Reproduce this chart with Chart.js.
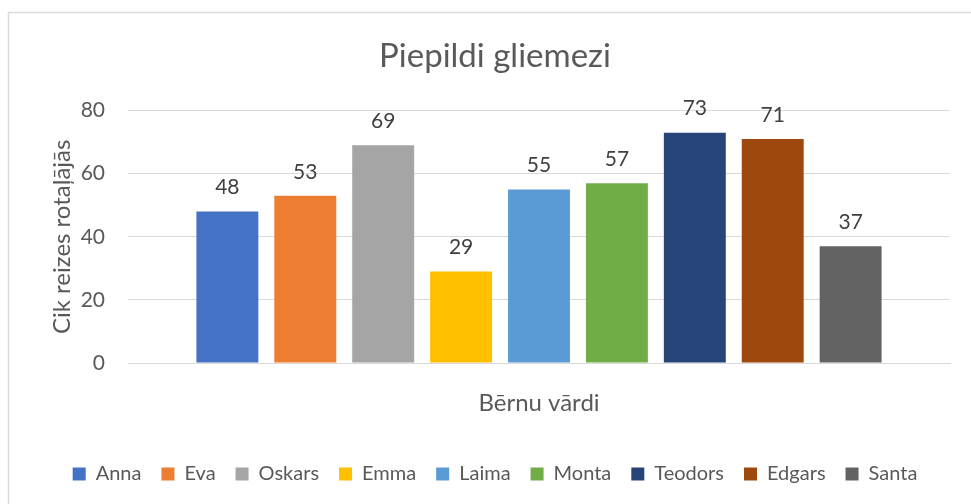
<!DOCTYPE html>
<html>
<head>
<meta charset="utf-8">
<script src="https://cdn.jsdelivr.net/npm/chart.js@4.4.0/dist/chart.umd.min.js"></script>
<style>
  html, body { margin: 0; padding: 0; background: #ffffff; }
  #wrap { width: 971px; height: 504px; position: relative; }
</style>
</head>
<body>
<div id="wrap"><canvas id="c" width="971" height="504"></canvas></div>
<script>
const categories = [''];
const seriesNames = ['Anna', 'Eva', 'Oskars', 'Emma', 'Laima', 'Monta', 'Teodors', 'Edgars', 'Santa'];
const seriesValues = [48, 53, 69, 29, 55, 57, 73, 71, 37];
const seriesColors = ['#4472C4', '#ED7D31', '#A5A5A5', '#FFC000', '#5B9BD5', '#70AD47', '#264478', '#9E480E', '#636363'];
const yTicks = [0, 20, 40, 60, 80];

const FONT = 'Lato';
const TEXT = '#595959';

const datasets = seriesNames.map((name, i) => ({
  label: name,
  data: [seriesValues[i]],
  backgroundColor: seriesColors[i],
  borderWidth: 0,
  categoryPercentage: 0.853,
  barPercentage: 0.795
}));

const frame = {
  id: 'frame',
  beforeDraw(chart) {
    const ctx = chart.ctx;
    ctx.save();
    ctx.fillStyle = '#ffffff';
    ctx.fillRect(0, 0, chart.width, chart.height);
    ctx.strokeStyle = '#d9d9d9';
    ctx.lineWidth = 1.5;
    ctx.strokeRect(8.5, 12.5, 2000, 2000);
    ctx.restore();
  }
};

const valueLabels = {
  id: 'valueLabels',
  afterDatasetsDraw(chart) {
    const ctx = chart.ctx;
    ctx.save();
    ctx.font = '21px ' + FONT;
    ctx.fillStyle = '#404040';
    ctx.textAlign = 'center';
    ctx.textBaseline = 'middle';
    chart.data.datasets.forEach((ds, i) => {
      const meta = chart.getDatasetMeta(i);
      meta.data.forEach((bar, j) => {
        ctx.fillText(String(ds.data[j]), bar.x, bar.y - 24);
      });
    });
    ctx.restore();
  }
};

new Chart(document.getElementById('c'), {
  type: 'bar',
  data: { labels: categories, datasets },
  plugins: [frame, valueLabels],
  options: {
    responsive: false,
    animation: false,
    devicePixelRatio: 1,
    layout: { padding: { left: 40, right: 21, top: 0, bottom: 10 } },
    plugins: {
      title: {
        display: true,
        text: 'Piepildi gliemezi',
        color: TEXT,
        font: { family: FONT, size: 33, weight: 'normal', lineHeight: 1.2 },
        padding: { top: 37, bottom: 34 }
      },
      legend: {
        display: true,
        position: 'bottom',
        labels: {
          color: TEXT,
          font: { family: FONT, size: 20 },
          boxWidth: 13,
          boxHeight: 13,
          padding: 20
        }
      },
      tooltip: { enabled: false }
    },
    scales: {
      x: {
        grid: { display: false },
        border: { display: true, color: '#d9d9d9', width: 1 },
        ticks: { display: false },
        title: {
          display: true,
          text: 'Bērnu vārdi',
          color: TEXT,
          font: { family: FONT, size: 24, lineHeight: 1.2 },
          padding: { top: 0, bottom: 26 }
        },
        afterFit(scale) { scale.height = 81; }
      },
      y: {
        min: 0,
        max: 80,
        afterBuildTicks(scale) { scale.ticks = yTicks.map(v => ({ value: v })); },
        grid: { color: '#d9d9d9', lineWidth: 1, drawTicks: false },
        border: { display: false },
        ticks: {
          color: TEXT,
          font: { family: FONT, size: 21 },
          padding: 23
        },
        title: {
          display: true,
          text: 'Cik reizes rotaļājās',
          color: TEXT,
          font: { family: FONT, size: 24, lineHeight: 1.2 },
          padding: { top: 8, bottom: 0 }
        },
        afterFit(scale) { scale.width = 88; }
      }
    }
  }
});
</script>
</body>
</html>
